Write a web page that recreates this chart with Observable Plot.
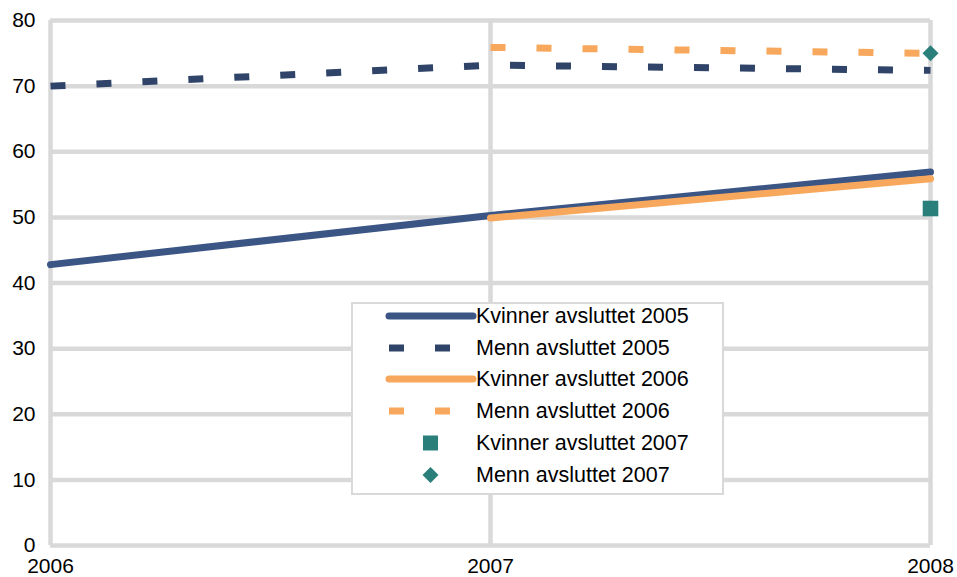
<!DOCTYPE html>
<html>
<head>
<meta charset="utf-8">
<script src="https://cdn.jsdelivr.net/npm/d3@7"></script>
<script src="https://cdn.jsdelivr.net/npm/@observablehq/plot@0.6"></script>
<style>
  body { margin: 0; background: #fff; font-family: "Liberation Sans", Arial, sans-serif; }
  #wrap { position: relative; width: 957px; height: 577px; }
  #legend { position: absolute; left: 351px; top: 302px; width: 369px; height: 189px;
            border: 2px solid #d9d9d9; background: #fff; }
  .row { position: absolute; left: 0; height: 30px; width: 369px; }
  .row svg { position: absolute; left: 30px; top: 0; }
  .row span { position: absolute; left: 123px; top: 50%; transform: translateY(-50%);
              font-size: 21.5px; color: #000; white-space: nowrap; }
</style>
</head>
<body>
<div id="wrap"><div id="chart"></div><div id="legend"></div></div>
<script>
const years = [2006, 2007, 2008];
const yTicks = [0, 10, 20, 30, 40, 50, 60, 70, 80];
const seriesNames = ["Kvinner avsluttet 2005", "Menn avsluttet 2005", "Kvinner avsluttet 2006",
                     "Menn avsluttet 2006", "Kvinner avsluttet 2007", "Menn avsluttet 2007"];
const kvinner2005 = [42.8, 50.3, 56.9];
const menn2005 = [70.0, 73.2, 72.4];
const kvinner2006 = [null, 49.9, 55.9];
const menn2006 = [null, 75.9, 75.0];
const kvinner2007 = [null, null, 51.35];
const menn2007 = [null, null, 75.0];

const navy = "#3b5585", navyDark = "#2f4468", orange = "#f8a85c", teal = "#2b7f7b", grid = "#d9d9d9";

const toRows = (vals) => years.map((x, i) => ({x, y: vals[i]})).filter(d => d.y != null);

const chart = Plot.plot({
  width: 957,
  height: 577,
  marginLeft: 50,
  marginRight: 27,
  marginTop: 20,
  marginBottom: 32,
  style: { fontFamily: "Liberation Sans, Arial, sans-serif", fontSize: "21px", color: "#000", background: "#fff" },
  x: { domain: [2006, 2008] },
  y: { domain: [0, 80] },
  marks: [
    Plot.ruleY(yTicks, { stroke: grid, strokeWidth: 4.5 }),
    Plot.ruleX(years, { stroke: grid, strokeWidth: 4.5 }),
    Plot.axisY({ ticks: yTicks, tickSize: 0, tickPadding: 15, label: null, fontSize: 21 }),
    Plot.axisX({ ticks: years, tickSize: 0, tickPadding: 13, tickFormat: d => String(d), label: null, fontSize: 21 }),
    Plot.line(toRows(menn2005), { x: "x", y: "y", stroke: navyDark, strokeWidth: 7, strokeDasharray: "15,31", strokeLinecap: "butt" }),
    Plot.line(toRows(menn2006), { x: "x", y: "y", stroke: orange, strokeWidth: 7, strokeDasharray: "15,31", strokeLinecap: "butt" }),
    Plot.line(toRows(kvinner2005), { x: "x", y: "y", stroke: navy, strokeWidth: 7, strokeLinecap: "round" }),
    Plot.line(toRows(kvinner2006), { x: "x", y: "y", stroke: orange, strokeWidth: 7, strokeLinecap: "round" }),
    Plot.dot(toRows(kvinner2007), { x: "x", y: "y", symbol: "square", r: 8.8, fill: teal, stroke: "none" }),
    Plot.dot(toRows(menn2007), { x: "x", y: "y", symbol: "diamond2", r: 7.2, fill: teal, stroke: "none" })
  ]
});
document.getElementById("chart").appendChild(chart);

// Legend
const legendSwatches = [
  `<line x1="6" y1="15" x2="90" y2="15" stroke="${navy}" stroke-width="7" stroke-linecap="round"/>`,
  `<line x1="6" y1="15" x2="91" y2="15" stroke="${navyDark}" stroke-width="7" stroke-dasharray="15,31"/>`,
  `<line x1="6" y1="15" x2="90" y2="15" stroke="${orange}" stroke-width="7" stroke-linecap="round"/>`,
  `<line x1="6" y1="15" x2="91" y2="15" stroke="${orange}" stroke-width="7" stroke-dasharray="15,31"/>`,
  `<rect x="40" y="7.5" width="15" height="15" fill="${teal}"/>`,
  `<path d="M47.5 7 L55.5 15 L47.5 23 L39.5 15 Z" fill="${teal}"/>`
];
const legend = document.getElementById("legend");
seriesNames.forEach((name, i) => {
  const row = document.createElement("div");
  row.className = "row";
  row.style.top = (-3 + i * 31.7) + "px";
  row.innerHTML = `<svg width="100" height="30">${legendSwatches[i]}</svg><span>${name}</span>`;
  legend.appendChild(row);
});
</script>
</body>
</html>
